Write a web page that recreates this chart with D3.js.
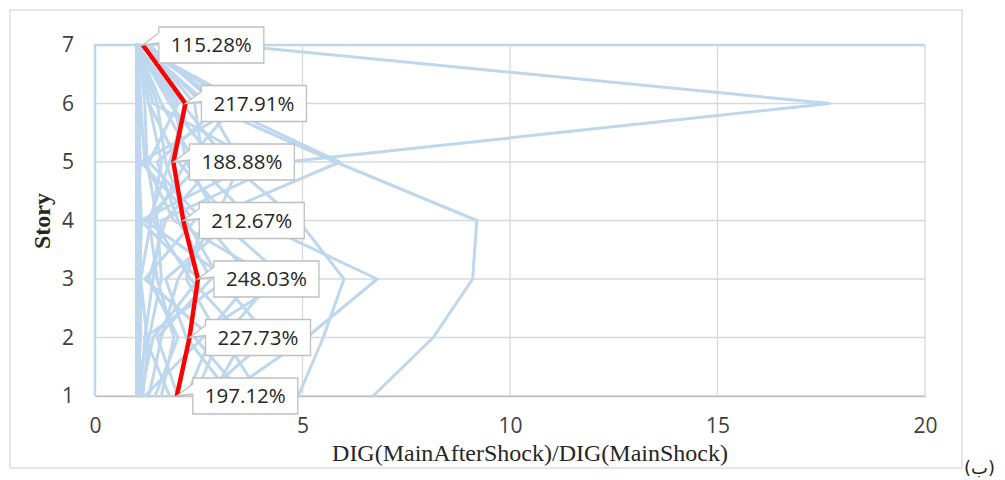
<!DOCTYPE html>
<html>
<head>
<meta charset="utf-8">
<script src="https://cdn.jsdelivr.net/npm/d3@7"></script>
<style>
  html, body { margin: 0; padding: 0; background: #ffffff; }
  svg { display: block; }
</style>
</head>
<body>
<svg id="chart" width="1005" height="480"></svg>
<script>
// ---------------- data ----------------
const stories = [1, 2, 3, 4, 5, 6, 7];
const xTicks = [0, 5, 10, 15, 20];
const yTicks = [1, 2, 3, 4, 5, 6, 7];
const xTitle = "DIG(MainAfterShock)/DIG(MainShock)";
const yTitle = "Story";
const panelTag = "(ب)";

// average ratio per story (story 1 .. 7)
const avgValues = [1.9712, 2.2773, 2.4803, 2.1267, 1.8888, 2.1791, 1.1528];

// individual record ratios per story (story 1 .. 7)
const recordValues = [
  [1.10, 1.20, 1.40, 1.60, 4.60, 17.70, 3.30],
  [6.70, 8.15, 9.10, 9.20, 5.80, 2.60, 1.10],
  [2.40, 3.00, 2.20, 2.60, 5.90, 2.90, 1.30],
  [4.90, 5.50, 6.00, 4.90, 3.20, 2.10, 1.00],
  [3.10, 5.10, 6.80, 3.80, 2.40, 1.60, 1.00],
  [1.00, 1.00, 1.00, 1.00, 1.00, 1.00, 1.00],
  [1.05, 1.00, 1.02, 1.05, 1.00, 1.00, 1.00],
  [1.10, 1.05, 1.00, 1.00, 1.10, 1.00, 1.00],
  [1.00, 1.10, 1.10, 1.05, 1.00, 1.05, 1.00],
  [1.02, 1.00, 1.00, 1.00, 1.00, 1.00, 1.02],
  [1.08, 1.02, 1.08, 1.12, 1.05, 1.10, 1.00],
  [1.45, 2.00, 1.30, 1.70, 2.90, 1.80, 1.00],
  [2.00, 1.50, 2.80, 2.00, 1.50, 3.10, 1.10],
  [2.80, 3.60, 2.30, 1.40, 2.20, 3.40, 1.00],
  [1.20, 2.60, 3.80, 2.60, 1.30, 2.00, 1.00],
  [3.30, 2.20, 1.70, 3.30, 2.00, 1.30, 1.00],
  [1.80, 1.20, 3.20, 1.20, 2.60, 2.40, 1.20],
  [2.60, 4.20, 3.00, 2.20, 1.70, 1.50, 1.00],
  [1.30, 1.60, 2.00, 2.90, 3.50, 2.70, 1.10],
  [4.00, 3.10, 4.30, 1.90, 1.20, 1.10, 1.00],
  [1.60, 1.90, 1.50, 1.30, 1.80, 2.20, 1.30],
  [2.20, 2.80, 1.20, 2.40, 1.10, 3.60, 1.00],
  [1.10, 1.40, 2.50, 1.10, 3.90, 1.40, 1.00],
  [3.60, 2.40, 4.60, 3.00, 2.20, 1.90, 1.00],
  [1.15, 1.30, 1.60, 1.50, 1.25, 1.20, 1.05],
  [1.00, 1.25, 1.10, 1.35, 1.60, 1.30, 1.00]
];

// ---------------- layout ----------------
const svg = d3.select("#chart");
const x = d3.scaleLinear().domain([0, 20]).range([95, 925]);
const y = d3.scaleLinear().domain([1, 7]).range([396, 45]);

const blue = "#bdd7ee";
const grid = "#d9d9d9";

// outer chart frame
svg.append("rect")
  .attr("x", 10).attr("y", 10).attr("width", 952).attr("height", 458)
  .attr("fill", "#fff").attr("stroke", grid).attr("stroke-width", 1.3);

// grid lines
svg.append("g").selectAll("line").data(yTicks).join("line")
  .attr("x1", x(0)).attr("x2", x(20))
  .attr("y1", d => y(d)).attr("y2", d => y(d))
  .attr("stroke", grid).attr("stroke-width", 1.3);
svg.append("g").selectAll("line").data(xTicks.filter(d => d > 0)).join("line")
  .attr("x1", d => x(d)).attr("x2", d => x(d))
  .attr("y1", y(1)).attr("y2", y(7))
  .attr("stroke", grid).attr("stroke-width", 1.3);

// plot area border (light blue)
svg.append("path")
  .attr("d", `M${x(0)},${y(1)}V${y(7)}H${x(20)}`)
  .attr("fill", "none").attr("stroke", blue).attr("stroke-width", 2.5);

// axes
const xAxis = svg.append("g").attr("transform", `translate(0,${y(1)})`)
  .call(d3.axisBottom(x).tickValues(xTicks).tickSize(0).tickPadding(22).tickFormat(d3.format("d")));
xAxis.select(".domain").attr("stroke", "#bfbfbf").attr("stroke-width", 1.5);
xAxis.selectAll("text").attr("font-family", "'Open Sans', sans-serif").attr("font-size", 21).attr("fill", "#404040");

const yAxis = svg.append("g").attr("transform", `translate(${x(0)},0)`)
  .call(d3.axisLeft(y).tickValues(yTicks).tickSize(0).tickPadding(21).tickFormat(d3.format("d")));
yAxis.select(".domain").remove();
yAxis.selectAll("text").attr("font-family", "'Open Sans', sans-serif").attr("font-size", 21).attr("fill", "#404040");

// record lines
const line = d3.line().x(d => x(d[1])).y(d => y(d[0]));
svg.append("g").selectAll("path").data(recordValues).join("path")
  .attr("d", vals => line(stories.map((s, i) => [s, vals[i]])))
  .attr("fill", "none").attr("stroke", blue).attr("stroke-width", 3)
  .attr("stroke-linejoin", "round").attr("stroke-linecap", "round");

// average line
const avgPts = stories.map((s, i) => [s, avgValues[i]]);
svg.append("path").attr("d", line(avgPts))
  .attr("fill", "none").attr("stroke", "#ff0000").attr("stroke-width", 4.5)
  .attr("stroke-linejoin", "round");

// callout labels
const fmt = v => (v * 100).toFixed(2) + "%";
const callouts = svg.append("g");
avgPts.forEach(([s, v]) => {
  const px = x(v), py = y(s);
  const L = px + 16, T = py - 18, W = 105, H = 36;
  callouts.append("path")
    .attr("d", `M${L},${T}H${L + W}V${T + H}H${L}V${T + 16}L${px},${py}L${L},${T + 6}Z`)
    .attr("fill", "#fff").attr("stroke", "#bfbfbf").attr("stroke-width", 1.3);
  callouts.append("text")
    .attr("x", L + W / 2).attr("y", T + H / 2).attr("dy", "0.36em")
    .attr("text-anchor", "middle")
    .attr("font-family", "'Open Sans', sans-serif").attr("font-size", 20.5)
    .attr("fill", "#262626").text(fmt(v));
});

// axis titles
svg.append("text")
  .attr("x", 530).attr("y", 461).attr("text-anchor", "middle")
  .attr("font-family", "'Liberation Serif', 'Times New Roman', serif").attr("font-size", 24)
  .attr("fill", "#262626").text(xTitle);
svg.append("text")
  .attr("transform", "translate(50,221) rotate(-90)").attr("text-anchor", "middle")
  .attr("font-family", "'Liberation Serif', 'Times New Roman', serif").attr("font-size", 24)
  .attr("font-weight", "bold").attr("fill", "#262626").text(yTitle);

// panel tag
svg.append("text")
  .attr("x", 964).attr("y", 474)
  .attr("direction", "ltr")
  .attr("font-family", "'DejaVu Sans', sans-serif").attr("font-size", 18)
  .attr("fill", "#262626").text(panelTag);
</script>
</body>
</html>
